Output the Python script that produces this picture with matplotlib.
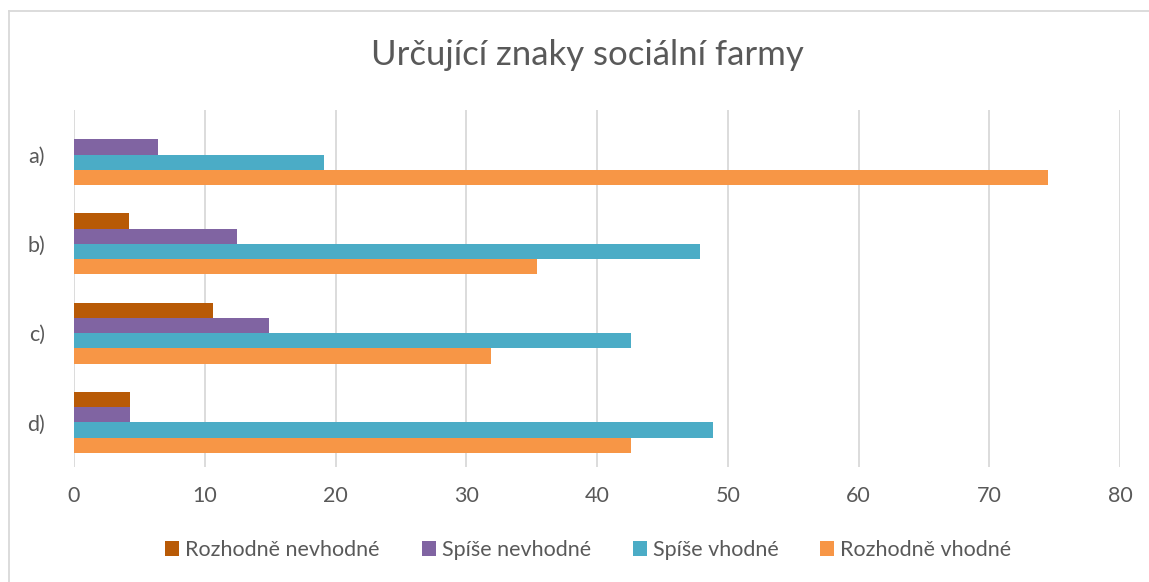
import matplotlib
matplotlib.use("Agg")
import matplotlib.pyplot as plt
import numpy as np
from matplotlib.lines import Line2D

plt.rcParams['font.family'] = ['Lato', 'DejaVu Sans']

categories = ['a)', 'b)', 'c)', 'd)']
series = ['Rozhodně nevhodné', 'Spíše nevhodné', 'Spíše vhodné', 'Rozhodně vhodné']
rozhodne_nevhodne = [0, 4.2, 10.6, 4.3]
spise_nevhodne = [6.4, 12.5, 14.9, 4.3]
spise_vhodne = [19.1, 47.9, 42.6, 48.9]
rozhodne_vhodne = [74.5, 35.4, 31.9, 42.6]
colors = ['#B85A06', '#8064A2', '#4BACC6', '#F79646']

values = [rozhodne_nevhodne, spise_nevhodne, spise_vhodne, rozhodne_vhodne]

fig = plt.figure(figsize=(11.49, 5.82), dpi=100)
ax = fig.add_axes([74 / 1149, 1 - 467 / 582, (1120 - 74) / 1149, (467 - 110) / 582])

y = np.arange(len(categories))
h = 0.171
for i, (name, vals) in enumerate(zip(series, values)):
    offs = (i - 1.5) * h
    ax.barh(y + offs, vals, height=h, color=colors[i], label=name, zorder=3)

ax.set_ylim(3.5, -0.5)
ax.set_xlim(0, 80)
ax.set_xticks(range(0, 81, 10))
ax.set_yticks(y)
ax.set_yticklabels(categories)
ax.grid(axis='x', color='#D9D9D9', linewidth=1.3, zorder=0)
for s in ax.spines.values():
    s.set_visible(False)
ax.tick_params(axis='both', length=0, labelsize=15.5, colors='#595959')
ax.tick_params(axis='x', pad=14)
ax.tick_params(axis='y', pad=21)

fig.text(0.511, 1 - 55 / 582, 'Určující znaky sociální farmy', ha='center', va='center',
         fontsize=25, color='#595959')

leg = fig.legend(loc='center', bbox_to_anchor=(0.512, 1 - 550 / 582), ncol=4, frameon=False,
                 fontsize=15.5, handlelength=0.65, handleheight=0.65, handletextpad=0.28,
                 columnspacing=1.95, labelcolor='#595959')

# chart frame: only the top and left edges are visible in the crop
fy = 1 - 10.5 / 582
fx = 9 / 1149
fig.add_artist(Line2D([fx, 1], [fy, fy], transform=fig.transFigure, color='#D9D9D9', linewidth=1.3))
fig.add_artist(Line2D([fx, fx], [0, fy], transform=fig.transFigure, color='#D9D9D9', linewidth=1.3))

fig.savefig('out.png', dpi=100)
